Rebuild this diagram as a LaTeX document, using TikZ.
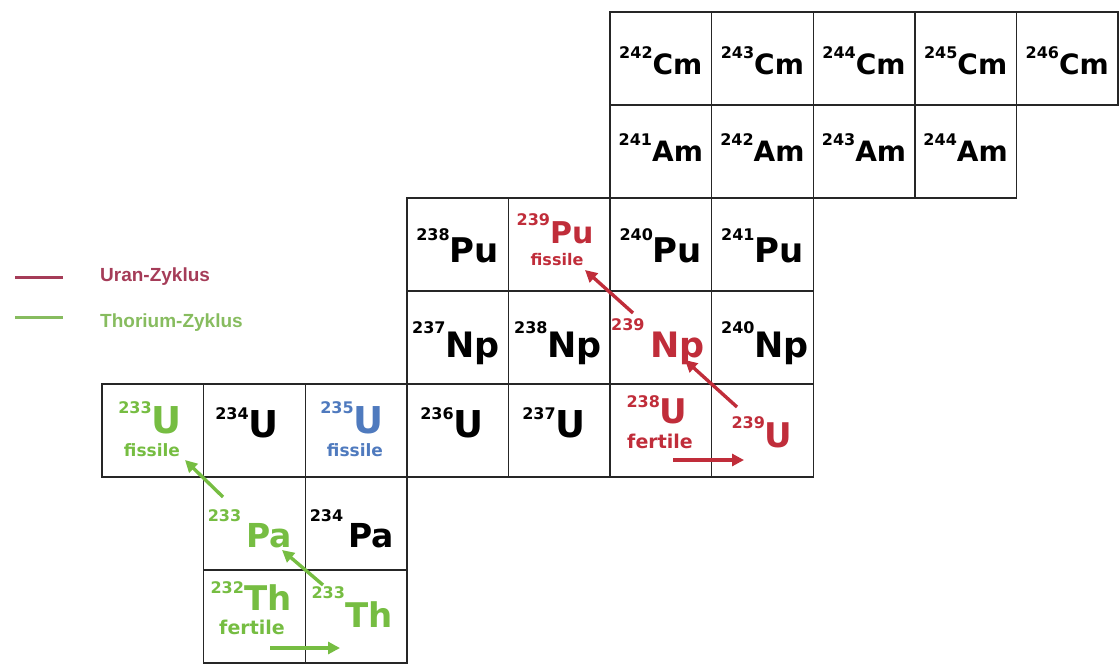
\documentclass[tikz,border=0pt]{standalone}
\usepackage{fontspec}
\setmainfont{DejaVu Sans}
\newfontfamily\legendfont{Liberation Sans}
\usetikzlibrary{arrows.meta}
\definecolor{ured}{RGB}{192,45,58}
\definecolor{tgreen}{RGB}{118,189,66}
\definecolor{ublue}{RGB}{79,122,190}
\definecolor{lred}{RGB}{165,60,88}
\definecolor{lgreen}{RGB}{135,188,95}
\newcommand\isot[5]{\raisebox{#3pt}{\fontsize{#1}{#1}\selectfont #4}\fontsize{#2}{#2}\selectfont #5}
\newcommand\notetxt[2]{\fontsize{#1}{#1}\selectfont #2}
\begin{document}
\begin{tikzpicture}[x=1pt,y=-1pt,
  cell/.style={draw=black!85,line width=1.4pt},
  lab/.style={anchor=base,inner sep=0pt,font=\bfseries},
  cyc/.style={line width=3.4pt,-{Triangle[length=12pt,width=12pt]}},
  leg/.style={line width=3pt},
  legtext/.style={anchor=base west,inner sep=0pt,font=\legendfont\bfseries\fontsize{19}{19}\selectfont}]
\useasboundingbox (0,0) rectangle (1119,664);
% grid cells
\foreach \c/\r in {5/0,6/0,7/0,8/0,9/0, 5/1,6/1,7/1,8/1, 3/2,4/2,5/2,6/2, 3/3,4/3,5/3,6/3, 0/4,1/4,2/4,3/4,4/4,5/4,6/4, 1/5,2/5, 1/6,2/6}
  \draw[cell] ({102+101.6*\c},{12+93*\r}) rectangle ++(101.6,93);
% Cm row
\node[lab] (cm242) at (660.8,74) {\isot{16}{28}{16}{242}{Cm}};
\node[lab] (cm243) at (762.4,74) {\isot{16}{28}{16}{243}{Cm}};
\node[lab] (cm244) at (864,74) {\isot{16}{28}{16}{244}{Cm}};
\node[lab] (cm245) at (965.6,74) {\isot{16}{28}{16}{245}{Cm}};
\node[lab] (cm246) at (1067.2,74) {\isot{16}{28}{16}{246}{Cm}};
% Am row
\node[lab] (am241) at (660.8,161) {\isot{16}{28}{16}{241}{Am}};
\node[lab] (am242) at (762.4,161) {\isot{16}{28}{16}{242}{Am}};
\node[lab] (am243) at (864,161) {\isot{16}{28}{16}{243}{Am}};
\node[lab] (am244) at (965.6,161) {\isot{16}{28}{16}{244}{Am}};
% Pu row
\node[lab] (pu238) at (457.6,262) {\isot{16}{34}{22}{238}{Pu}};
\node[lab,text=ured] (pu239) at (555,243) {\isot{16}{30}{18}{239}{Pu}};
\node[lab,text=ured] (pu239f) at (557,265) {\notetxt{16}{fissile}};
\node[lab] (pu240) at (660.8,262) {\isot{16}{34}{22}{240}{Pu}};
\node[lab] (pu241) at (762.4,262) {\isot{16}{34}{22}{241}{Pu}};
% Np row
\node[lab] (np237) at (456,357) {\isot{16}{35}{24}{237}{Np}};
\node[lab] (np238) at (558,357) {\isot{16}{35}{24}{238}{Np}};
\node[lab,text=ured] (np239) at (658,357) {\isot{16}{35}{27}{239}{\,Np}};
\node[lab] (np240) at (765,357) {\isot{16}{35}{24}{240}{Np}};
% U row
\node[lab,text=tgreen] (u233) at (150,433) {\isot{16}{37}{20}{233}{U}};
\node[lab,text=tgreen] (u233f) at (152,456) {\notetxt{17}{fissile}};
\node[lab] (u234) at (247,437) {\isot{16}{37}{18}{234}{U}};
\node[lab,text=ublue] (u235) at (352,433) {\isot{16}{37}{20}{235}{U}};
\node[lab,text=ublue] (u235f) at (355,456) {\notetxt{17}{fissile}};
\node[lab] (u236) at (452,437) {\isot{16}{37}{18}{236}{U}};
\node[lab] (u237) at (554,437) {\isot{16}{37}{18}{237}{U}};
\node[lab,text=ured] (u238) at (657,423) {\isot{16}{34}{16}{238}{U}};
\node[lab,text=ured] (u238f) at (660,448) {\notetxt{19}{fertile}};
\node[lab,text=ured] (u239) at (762,447) {\isot{16}{34}{19}{239}{U}};
% Pa row
\node[lab,text=tgreen] (pa233) at (250,547) {\isot{16}{33}{26}{233}{\,Pa}};
\node[lab] (pa234) at (352,547) {\isot{16}{33}{26}{234}{\,Pa}};
% Th row
\node[lab,text=tgreen] (th232) at (251,610) {\isot{16}{34}{17}{232}{Th}};
\node[lab,text=tgreen] (th232f) at (252,634) {\notetxt{19}{fertile}};
\node[lab,text=tgreen] (th233) at (352,627) {\isot{16}{34}{29}{233}{Th}};
% arrow end points
\coordinate (r1a) at (737,407); \coordinate (r1b) at (685,360);
\coordinate (r2a) at (633,313); \coordinate (r2b) at (585,270);
\coordinate (r3a) at (673,460); \coordinate (r3b) at (744,460);
\coordinate (g1a) at (323,585); \coordinate (g1b) at (282,550);
\coordinate (g2a) at (223,497); \coordinate (g2b) at (185,460);
\coordinate (g3a) at (270,648); \coordinate (g3b) at (340,648);
\draw[cyc,ured] (r1a) -- (r1b);
\draw[cyc,ured] (r2a) -- (r2b);
\draw[cyc,ured] (r3a) -- (r3b);
\draw[cyc,tgreen] (g1a) -- (g1b);
\draw[cyc,tgreen] (g2a) -- (g2b);
\draw[cyc,tgreen] (g3a) -- (g3b);
% legend
\coordinate (lr1) at (15,277); \coordinate (lr2) at (63,277);
\coordinate (lg1) at (15,317); \coordinate (lg2) at (63,317);
\draw[leg,lred] (lr1) -- (lr2);
\draw[leg,lgreen] (lg1) -- (lg2);
\node[legtext,text=lred] (legu) at (100,281) {Uran-Zyklus};
\node[legtext,text=lgreen] (legt) at (100,327) {Thorium-Zyklus};
\end{tikzpicture}
\end{document}
